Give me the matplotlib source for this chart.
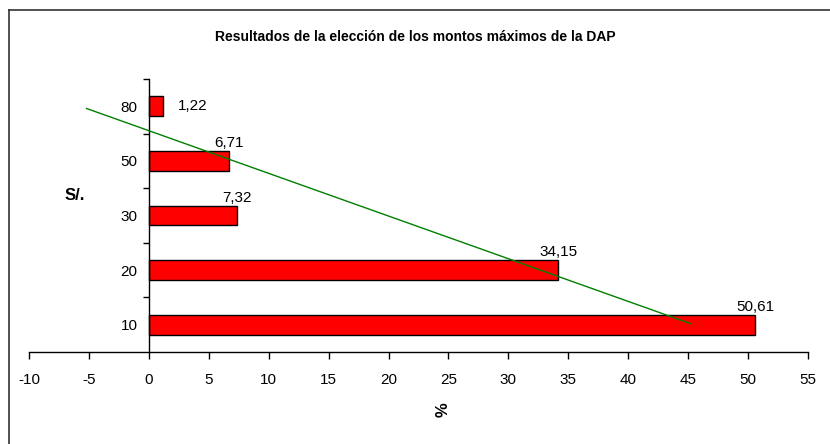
import matplotlib.pyplot as plt
from matplotlib.lines import Line2D

plt.rcParams['font.family'] = ['Liberation Sans', 'DejaVu Sans']

# montos (S/.) y porcentaje de respuestas
montos = ["10", "20", "30", "50", "80"]
porcentajes = [50.61, 34.15, 7.32, 6.71, 1.22]
etiquetas = ["50,61", "34,15", "7,32", "6,71", "1,22"]

# extremos de la linea de tendencia (x en %, y en posicion de categoria)
tendencia_x = [-5.2, 45.2]
tendencia_y = [3.96, 0.02]

titulo = "Resultados de la elección de los montos máximos de la DAP"
x_ticks = list(range(-10, 60, 5))


def main():
    fig = plt.figure(figsize=(8.3, 4.44), dpi=100)
    fig.patch.set_facecolor("white")

    # marco exterior del grafico (solo borde izquierdo y superior visibles)
    fig.add_artist(Line2D([8.5 / 830, 8.5 / 830], [0, 1 - 10 / 444],
                          transform=fig.transFigure, color="#333333", lw=1.2))
    fig.add_artist(Line2D([8.5 / 830, 1], [1 - 10 / 444, 1 - 10 / 444],
                          transform=fig.transFigure, color="#333333", lw=1.2))

    ax = fig.add_axes([29 / 830, 92 / 444, 779 / 830, 273 / 444])
    pos = list(range(len(montos)))
    ax.barh(pos, porcentajes, height=0.36, color="#ff0000",
            edgecolor="black", linewidth=1.0, zorder=2)

    for p, v, t in zip(pos, porcentajes, etiquetas):
        if v < 2:
            ax.text(v + 1.2, p, t, ha="left", va="center", fontsize=11)
        else:
            ax.text(v, p + 0.2, t, ha="center", va="bottom", fontsize=11)

    ax.plot(tendencia_x, tendencia_y, color="#008000", lw=1.0, zorder=3)

    ax.set_xlim(-10, 55)
    ax.set_ylim(-0.5, 4.5)
    ax.set_xticks(x_ticks)
    ax.set_xticklabels([str(x) for x in x_ticks])

    # ticks del eje y entre categorias, etiquetas centradas
    ax.set_yticks([p + 0.5 for p in pos])
    ax.set_yticklabels([])
    ax.set_yticks(pos, minor=True)
    ax.set_yticklabels(montos, minor=True)
    ax.tick_params(axis="y", which="minor", length=0, pad=8, labelsize=11)
    ax.tick_params(axis="y", which="major", length=4, width=1, direction="out")
    ax.tick_params(axis="x", length=5, width=1, direction="out", pad=10,
                   labelsize=11)

    ax.spines["left"].set_position(("data", 0))
    ax.spines["top"].set_visible(False)
    ax.spines["right"].set_visible(False)
    for s in ("left", "bottom"):
        ax.spines[s].set_color("black")
        ax.spines[s].set_linewidth(1.0)

    fig.text(75 / 830, 1 - 195 / 444, "S/.", fontsize=12, fontweight="bold",
             ha="center", va="center")
    fig.text(443 / 830, 1 - 410 / 444, "%", fontsize=12, fontweight="bold",
             ha="center", va="center", rotation=90)
    fig.text(0.5, 1 - 37 / 444, titulo, fontsize=10, fontweight="bold",
             ha="center", va="center")

    fig.savefig("out.png", dpi=100, facecolor="white")


if __name__ == '__main__':
    main()
